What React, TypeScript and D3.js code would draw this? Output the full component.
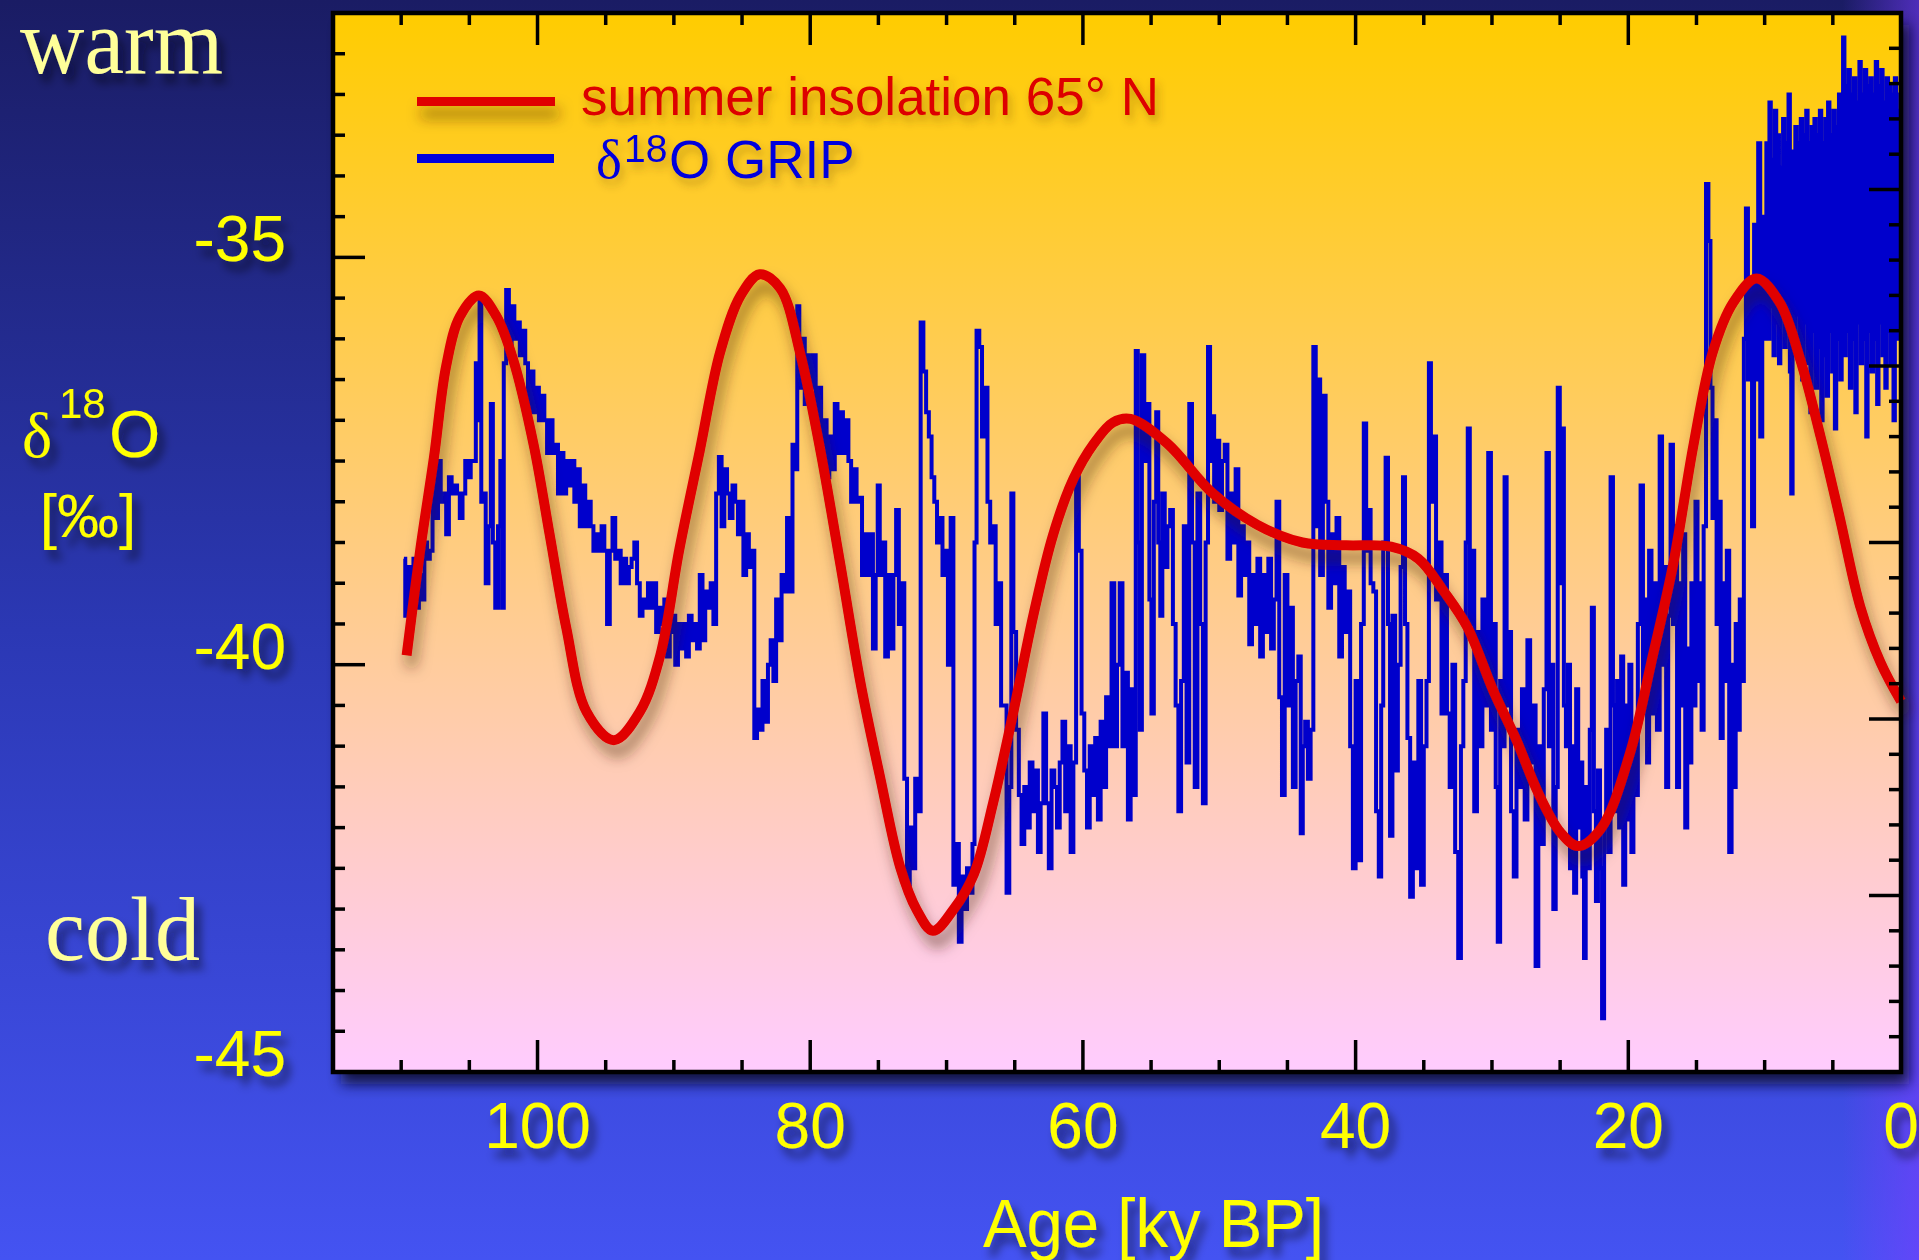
import React from "react";
import * as d3 from "d3";

const WIDTH = 1919;
const HEIGHT = 1260;
const PLOT_LEFT = 333;
const PLOT_RIGHT = 1901;
const PLOT_TOP = 13;
const PLOT_BOTTOM = 1072;

const AGE_RANGE_KY: [number, number] = [115, 0];
const D18O_RANGE: [number, number] = [-45, -32];
const INSOLATION_RANGE: [number, number] = [420, 570];

const AGE_TICK_LABELS = [100, 80, 60, 40, 20, 0];
const D18O_TICK_LABELS = [-35, -40, -45];

// summer insolation 65°N  [age ky BP, W/m2]
const INSOLATION_65N: [number, number][] = [
  [109.6, 479], [108.6, 494], [107.6, 507], [106.7, 520], [105.7, 527], [104.3, 530],
  [103.0, 527], [101.8, 521], [100.3, 509], [99.1, 496], [97.9, 483], [96.4, 471],
  [94.4, 467], [92.5, 471], [91.0, 479], [89.6, 494], [88.1, 508], [86.6, 522],
  [85.1, 530], [83.7, 533], [82.2, 531], [80.7, 521.5], [79.3, 508.5], [77.8, 492],
  [76.3, 475], [74.9, 462], [73.4, 449], [72.2, 443], [71.0, 440], [69.5, 443],
  [68.0, 448], [66.6, 458], [65.1, 471], [63.6, 485], [62.2, 496], [60.7, 504],
  [59.2, 509], [57.8, 512], [56.5, 512.5], [53.8, 509], [50.5, 502], [47.2, 497.5],
  [43.9, 495], [40.7, 494.6], [37.4, 494.4], [35.4, 492.7], [33.5, 488], [31.8, 483],
  [29.9, 474], [28.2, 467], [26.6, 459.5], [25.0, 454], [23.7, 452], [22.0, 454.5],
  [19.9, 465], [18.2, 479], [16.7, 492], [15.2, 509], [13.8, 522], [12.3, 529],
  [10.6, 532.4], [8.9, 529], [7.4, 521], [5.9, 510], [4.5, 498.6], [3.0, 486],
  [1.5, 478], [0.0, 472.5],
];

// GRIP delta-18O  [age ky BP, permil]
const GRIP_D18O: [number, number][] = [
  [109.8, -38.7], [109.6, -39.4], [109.4, -38.8], [109.2, -39.3], [109.0, -38.7], [108.8, -39.3],
  [108.6, -38.9], [108.4, -39.2], [108.2, -38.5], [108.0, -38.7], [107.8, -38.6], [107.6, -37.6],
  [107.4, -38.2], [107.2, -37.5], [107.0, -38.0], [106.8, -37.9], [106.6, -38.4], [106.4, -37.7],
  [106.2, -37.9], [106.0, -37.8], [105.8, -37.9], [105.6, -38.2], [105.4, -37.9], [105.2, -37.5],
  [105.0, -37.7], [104.8, -37.5], [104.6, -37.5], [104.45, -36.3], [104.3, -37.0], [104.2, -35.5],
  [104.05, -38.0], [103.9, -37.9], [103.7, -39.0], [103.5, -38.3], [103.35, -36.8], [103.2, -38.5],
  [103.0, -39.3], [102.8, -38.3], [102.65, -37.5], [102.55, -39.3], [102.4, -36.3], [102.2, -35.4],
  [102.0, -36.2], [101.8, -35.6], [101.6, -36.0], [101.4, -35.8], [101.2, -36.2], [101.0, -35.9],
  [100.8, -36.3], [100.6, -36.9], [100.4, -36.4], [100.2, -36.9], [100.0, -36.6], [99.8, -37.0],
  [99.6, -36.7], [99.4, -37.0], [99.2, -37.4], [99.0, -37.0], [98.8, -37.4], [98.6, -37.3],
  [98.4, -37.9], [98.2, -37.4], [98.0, -37.9], [97.8, -37.5], [97.6, -37.8], [97.4, -37.5],
  [97.2, -38.0], [97.0, -37.6], [96.8, -38.3], [96.6, -37.8], [96.4, -38.3], [96.2, -38.0],
  [96.0, -38.3], [95.8, -38.6], [95.6, -38.4], [95.4, -38.6], [95.2, -38.3], [95.0, -38.6],
  [94.8, -39.5], [94.6, -38.6], [94.4, -38.2], [94.2, -38.7], [94.0, -38.6], [93.8, -39.0],
  [93.6, -38.7], [93.4, -39.0], [93.2, -38.8], [93.0, -38.7], [92.8, -38.5], [92.6, -39.0],
  [92.4, -39.4], [92.2, -39.2], [92.0, -39.3], [91.8, -39.0], [91.6, -39.3], [91.4, -39.0],
  [91.2, -39.6], [91.0, -39.3], [90.8, -39.5], [90.6, -39.2], [90.4, -39.9], [90.2, -39.6],
  [90.0, -39.4], [89.8, -40.0], [89.6, -39.5], [89.4, -39.8], [89.2, -39.5], [89.0, -39.9],
  [88.8, -39.4], [88.6, -39.7], [88.4, -39.5], [88.2, -39.8], [88.0, -38.9], [87.8, -39.7],
  [87.6, -39.1], [87.4, -39.3], [87.2, -39.0], [87.0, -39.5], [86.8, -37.9], [86.6, -37.45],
  [86.4, -38.3], [86.2, -37.6], [86.0, -37.9], [85.8, -38.2], [85.6, -37.8], [85.4, -38.0],
  [85.2, -38.4], [85.0, -38.0], [84.8, -38.9], [84.6, -38.4], [84.4, -38.8], [84.2, -38.6],
  [84.0, -40.9], [83.8, -40.55], [83.6, -40.8], [83.4, -40.2], [83.2, -40.7], [83.0, -40.0],
  [82.8, -39.7], [82.6, -40.2], [82.4, -39.2], [82.2, -39.7], [82.0, -38.9], [81.8, -39.1],
  [81.6, -38.2], [81.4, -39.1], [81.2, -37.3], [81.0, -37.6], [80.9, -35.6], [80.7, -36.6],
  [80.5, -36.0], [80.3, -36.8], [80.1, -36.2], [79.9, -36.6], [79.7, -36.2], [79.5, -37.0],
  [79.3, -36.6], [79.1, -37.3], [78.9, -37.0], [78.7, -37.7], [78.5, -37.2], [78.3, -37.6],
  [78.1, -36.8], [77.9, -37.4], [77.7, -36.9], [77.5, -37.4], [77.3, -37.0], [77.1, -37.5],
  [76.9, -38.0], [76.7, -37.6], [76.5, -38.0], [76.3, -37.95], [76.1, -38.9], [75.9, -38.4],
  [75.7, -38.9], [75.5, -38.4], [75.3, -39.8], [75.1, -38.9], [75.0, -37.8], [74.8, -38.9],
  [74.6, -38.5], [74.4, -39.9], [74.2, -38.9], [74.0, -39.8], [73.8, -38.9], [73.6, -38.1],
  [73.4, -39.5], [73.2, -39.0], [73.0, -41.4], [72.8, -42.7], [72.6, -42.0], [72.4, -42.5],
  [72.2, -41.4], [72.0, -41.8], [71.8, -35.8], [71.6, -36.4], [71.4, -36.9], [71.2, -37.2],
  [71.0, -37.7], [70.8, -38.0], [70.6, -38.5], [70.4, -38.2], [70.2, -38.9], [70.0, -38.6],
  [69.8, -40.0], [69.6, -38.2], [69.4, -42.7], [69.2, -42.2], [69.0, -43.4], [68.8, -42.6],
  [68.6, -43.0], [68.4, -42.5], [68.2, -42.8], [68.0, -42.2], [67.9, -38.5], [67.7, -35.9],
  [67.5, -36.1], [67.3, -37.2], [67.1, -36.6], [66.9, -38.0], [66.7, -38.5], [66.5, -38.3],
  [66.3, -39.5], [66.1, -39.0], [65.9, -40.5], [65.7, -40.5], [65.5, -42.8], [65.3, -41.5],
  [65.2, -37.9], [65.0, -39.6], [64.8, -40.8], [64.6, -41.6], [64.4, -42.2], [64.2, -41.5],
  [64.0, -42.0], [63.8, -41.2], [63.6, -41.8], [63.4, -41.3], [63.2, -42.3], [63.0, -41.7],
  [62.8, -40.6], [62.6, -41.7], [62.4, -42.5], [62.2, -41.3], [62.0, -41.5], [61.8, -42.0],
  [61.6, -41.2], [61.4, -40.7], [61.2, -41.8], [61.0, -41.0], [60.8, -42.3], [60.6, -41.2],
  [60.4, -37.7], [60.2, -38.6], [60.0, -40.6], [59.8, -41.3], [59.6, -42.0], [59.4, -41.0],
  [59.2, -41.6], [59.0, -40.9], [58.8, -41.9], [58.6, -40.7], [58.4, -41.5], [58.2, -40.4],
  [58.0, -41.0], [57.8, -39.0], [57.6, -41.0], [57.4, -40.0],
  [57.2, -39.0], [57.0, -41.0], [56.8, -40.1], [56.6, -41.9], [56.4, -40.3], [56.2, -41.6],
  [56.05, -36.15], [55.9, -38.5], [55.75, -40.8], [55.6, -36.2], [55.4, -37.5], [55.2, -36.8],
  [55.05, -39.2], [54.9, -40.6], [54.7, -38.0], [54.55, -36.9], [54.4, -38.5], [54.25, -39.4],
  [54.1, -37.9], [53.9, -38.8], [53.7, -38.3], [53.5, -38.1], [53.3, -39.5], [53.1, -40.5],
  [52.9, -41.8], [52.7, -40.2], [52.5, -38.3], [52.3, -41.2], [52.1, -36.8], [51.9, -38.5],
  [51.7, -41.5], [51.5, -37.9], [51.3, -39.5], [51.1, -41.7], [50.9, -38.5], [50.75, -36.1],
  [50.6, -37.5], [50.45, -36.95], [50.3, -38.0], [50.1, -37.25], [49.9, -38.1], [49.7, -37.5],
  [49.5, -37.3], [49.3, -38.7], [49.1, -37.9], [48.9, -38.5], [48.7, -37.6], [48.5, -39.15],
  [48.3, -38.3], [48.1, -38.9], [47.9, -38.5], [47.7, -39.75], [47.5, -38.9], [47.3, -39.5],
  [47.1, -38.7], [46.9, -39.9], [46.7, -38.9], [46.5, -39.6], [46.3, -38.7], [46.1, -39.8],
  [45.9, -39.2], [45.7, -38.0], [45.5, -40.4], [45.3, -41.6], [45.1, -38.9], [44.9, -40.5],
  [44.7, -39.3], [44.5, -41.5], [44.3, -40.2], [44.1, -39.9], [43.95, -42.07], [43.8, -41.0],
  [43.6, -40.7], [43.4, -41.4], [43.2, -40.8], [43.0, -36.1], [42.85, -38.3], [42.7, -36.5],
  [42.5, -38.9], [42.3, -36.7], [42.1, -38.0], [41.9, -39.3], [41.7, -38.4], [41.5, -39.0],
  [41.3, -38.2], [41.1, -39.9], [40.9, -38.8], [40.7, -39.6], [40.5, -39.1], [40.3, -41.0],
  [40.1, -42.5], [39.9, -40.2], [39.7, -42.4], [39.5, -39.5], [39.3, -37.04], [39.15, -38.6],
  [39.0, -38.1], [38.8, -39.0], [38.6, -39.1], [38.4, -41.8], [38.2, -42.6], [38.05, -40.5],
  [37.9, -38.5], [37.7, -37.46], [37.55, -39.5], [37.4, -42.1], [37.2, -39.4], [37.0, -41.3],
  [36.8, -40.0], [36.6, -38.8], [36.45, -37.7], [36.3, -39.5], [36.1, -40.9], [35.9, -42.85],
  [35.7, -41.2], [35.5, -42.5], [35.3, -40.2], [35.1, -42.7], [34.9, -41.0], [34.7, -40.2],
  [34.55, -36.3], [34.4, -38.0], [34.2, -37.2], [34.0, -39.2], [33.8, -38.5], [33.6, -40.6],
  [33.4, -38.9], [33.2, -40.6], [33.0, -41.5], [32.8, -40.0], [32.6, -42.3], [32.35, -43.6],
  [32.2, -41.0], [32.0, -40.2], [31.85, -38.5], [31.7, -37.1], [31.55, -39.5], [31.4, -38.6],
  [31.2, -41.8], [31.0, -39.6], [30.8, -41.0], [30.6, -39.2], [30.4, -40.5], [30.15, -37.4],
  [30.0, -40.8], [29.8, -39.5], [29.65, -41.5], [29.5, -43.4], [29.3, -40.2], [29.15, -41.0],
  [29.0, -37.7], [28.85, -40.5], [28.7, -39.6], [28.5, -41.8], [28.3, -42.6], [28.1, -40.8],
  [27.9, -41.5], [27.7, -40.3], [27.5, -41.9], [27.3, -39.7], [27.1, -41.2], [26.9, -40.5],
  [26.7, -43.7], [26.5, -41.0], [26.3, -42.2], [26.1, -40.3], [25.9, -37.4], [25.75, -41.0],
  [25.6, -40.0], [25.4, -43.0], [25.25, -41.5], [25.1, -36.6], [24.95, -39.0], [24.8, -37.1],
  [24.65, -40.5], [24.5, -41.0], [24.35, -40.0], [24.2, -42.5], [24.05, -41.0], [23.9, -42.8],
  [23.75, -40.3], [23.6, -42.0], [23.45, -41.2], [23.3, -42.6], [23.2, -43.6], [23.05, -41.5],
  [22.9, -42.5], [22.75, -40.8], [22.6, -39.3], [22.45, -41.8], [22.3, -42.9], [22.15, -41.3],
  [22.0, -42.5], [21.85, -44.34], [21.7, -42.0], [21.55, -40.8], [21.4, -42.3], [21.2, -37.7],
  [21.05, -40.5], [20.9, -41.8], [20.75, -40.2], [20.6, -42.0], [20.45, -39.9], [20.3, -42.7],
  [20.15, -40.5], [20.0, -41.9], [19.85, -40.0], [19.7, -42.3], [19.55, -40.8], [19.4, -41.6],
  [19.2, -39.5], [19.0, -37.8], [18.85, -40.5], [18.7, -39.2], [18.55, -41.2], [18.4, -38.6],
  [18.2, -40.6], [18.0, -39.0], [17.8, -40.8], [17.6, -37.2], [17.45, -40.0], [17.3, -38.8],
  [17.15, -41.5], [17.0, -39.4], [16.8, -37.3], [16.65, -39.5], [16.5, -38.3], [16.35, -41.5],
  [16.2, -39.0], [16.05, -40.5], [15.9, -38.4], [15.75, -42.0], [15.6, -39.8], [15.45, -41.2],
  [15.3, -39.0], [15.15, -40.5], [15.0, -38.0], [14.85, -40.2], [14.7, -39.0], [14.55, -40.8],
  [14.4, -38.3], [14.2, -34.1], [14.05, -34.8], [13.9, -36.6], [13.75, -38.2], [13.6, -37.0],
  [13.45, -39.5], [13.3, -38.0], [13.15, -40.9], [13.0, -39.0], [12.85, -40.2], [12.7, -38.6],
  [12.5, -42.3], [12.35, -40.0], [12.2, -41.5], [12.05, -39.5], [11.9, -40.8], [11.75, -39.2],
  [11.6, -40.2], [11.45, -36.0], [11.3, -34.4], [11.15, -36.5], [11.0, -35.3], [10.85, -38.3],
  [10.7, -34.6], [10.55, -36.5], [10.4, -33.6], [10.25, -37.2], [10.1, -34.5], [9.95, -36.0],
  [9.8, -33.6], [9.7, -36.0], [9.6, -33.1], [9.5, -35.6], [9.4, -33.8], [9.3, -36.2],
  [9.2, -33.2], [9.1, -35.8], [9.0, -33.5], [8.9, -36.3], [8.8, -33.9], [8.7, -35.5],
  [8.6, -33.3], [8.5, -36.1], [8.4, -33.6], [8.3, -35.9], [8.2, -33.0], [8.1, -36.4],
  [8.0, -37.9], [7.9, -33.7], [7.8, -36.0], [7.7, -33.4], [7.6, -35.7], [7.5, -33.6],
  [7.4, -36.2], [7.3, -33.3], [7.2, -36.5], [7.1, -33.5], [7.0, -35.8], [6.9, -33.2],
  [6.8, -36.3], [6.7, -33.6], [6.6, -36.9], [6.5, -33.4], [6.4, -35.9], [6.3, -33.3],
  [6.2, -36.6], [6.1, -33.5], [6.0, -36.1], [5.9, -33.2], [5.8, -37.0], [5.7, -33.6],
  [5.6, -36.2], [5.5, -33.3], [5.4, -36.7], [5.3, -33.1], [5.2, -35.9], [5.1, -33.5],
  [5.0, -36.4], [4.9, -33.2], [4.8, -37.1], [4.7, -33.4], [4.6, -36.0], [4.5, -33.0],
  [4.4, -36.5], [4.3, -33.3], [4.2, -32.3], [4.1, -36.2], [4.0, -32.9], [3.9, -35.9],
  [3.8, -32.7], [3.7, -36.6], [3.6, -33.0], [3.5, -36.0], [3.4, -32.8], [3.3, -36.9],
  [3.2, -33.1], [3.1, -35.8], [3.0, -32.6], [2.9, -36.3], [2.8, -33.0], [2.7, -36.0],
  [2.6, -32.7], [2.5, -37.2], [2.4, -32.9], [2.3, -35.9], [2.2, -32.8], [2.1, -36.4],
  [2.0, -33.0], [1.9, -36.0], [1.8, -32.6], [1.7, -36.8], [1.6, -32.9], [1.5, -35.8],
  [1.4, -32.7], [1.3, -36.2], [1.2, -33.1], [1.1, -36.6], [1.0, -32.8], [0.9, -35.9],
  [0.8, -32.9], [0.7, -36.3], [0.6, -33.0], [0.5, -37.0], [0.4, -32.8], [0.3, -36.0],
  [0.2, -33.2], [0.1, -35.8], [0.0, -33.0],
];

const SANS = "'Liberation Sans', Arial, Helvetica, sans-serif";
const SERIF = "'Liberation Serif', 'Times New Roman', Times, serif";
const YELLOW = "#ffff00";
const PALE = "#ffff99";

export default function App() {
  const x = d3.scaleLinear().domain(AGE_RANGE_KY).range([PLOT_LEFT, PLOT_RIGHT]);
  const y = d3.scaleLinear().domain(D18O_RANGE).range([PLOT_BOTTOM, PLOT_TOP]);
  const yIns = d3.scaleLinear().domain(INSOLATION_RANGE).range([PLOT_BOTTOM, PLOT_TOP]);

  const grip = [...GRIP_D18O].sort((a, b) => b[0] - a[0]);
  const ins = [...INSOLATION_65N].sort((a, b) => b[0] - a[0]);

  const gripPath = d3
    .line<[number, number]>()
    .x((d) => x(d[0]))
    .y((d) => y(d[1]))
    .curve(d3.curveStep)(grip) || "";
  const insPath = d3
    .line<[number, number]>()
    .x((d) => x(d[0]))
    .y((d) => yIns(d[1]))
    .curve(d3.curveCatmullRom.alpha(0.5))(ins) || "";

  const ageTicks = d3.range(0, 111, 5);
  const d18oTicks = d3.range(-45, -31.99, 0.5);
  const insTicks = d3.range(420, 570.01, 5);
  const isMajorAge = (v: number) => Math.abs(v % 20) < 1e-6;
  const isMajorD = (v: number) => Math.abs(v % 5) < 1e-6;
  const isMajorIns = (v: number) => Math.abs((v - 420) % 25) < 1e-6;

  const MAJ = 32;
  const MIN = 12;
  const TW = 3.5;

  return (
    <svg
      width={WIDTH}
      height={HEIGHT}
      viewBox={`0 0 ${WIDTH} ${HEIGHT}`}
      style={{ position: "absolute", left: 0, top: 0, display: "block" }}
    >
      <defs>
        <linearGradient id="bg" x1="0" y1="0" x2="0" y2="1">
          <stop offset="0" stopColor="#1a1c64" />
          <stop offset="0.5" stopColor="#2b38b4" />
          <stop offset="1" stopColor="#4453f2" />
        </linearGradient>
        <linearGradient id="bgRight" x1="0" y1="0" x2="1" y2="0">
          <stop offset="0.96" stopColor="#7a3cff" stopOpacity="0" />
          <stop offset="1" stopColor="#7a3cff" stopOpacity="0.55" />
        </linearGradient>
        <linearGradient id="plotBg" x1="0" y1="0" x2="0" y2="1">
          <stop offset="0" stopColor="#ffcc00" />
          <stop offset="1" stopColor="#ffccff" />
        </linearGradient>
        <filter id="plotShadow" x="-5%" y="-5%" width="115%" height="115%">
          <feGaussianBlur stdDeviation="7" />
        </filter>
        <filter id="textShadow" x="-20%" y="-30%" width="150%" height="170%">
          <feDropShadow dx="6" dy="9" stdDeviation="5" floodColor="#000018" floodOpacity="0.55" />
        </filter>
        <filter id="softShadow" x="-10%" y="-30%" width="130%" height="180%">
          <feDropShadow dx="3" dy="6" stdDeviation="4" floodColor="#5a3a00" floodOpacity="0.35" />
        </filter>
        <filter
          id="redShadow"
          filterUnits="userSpaceOnUse"
          x={0}
          y={0}
          width={WIDTH}
          height={HEIGHT}
        >
          <feDropShadow dx="4" dy="12" stdDeviation="7" floodColor="#3a2200" floodOpacity="0.5" />
        </filter>
        <clipPath id="plotClip">
          <rect x={PLOT_LEFT} y={PLOT_TOP} width={PLOT_RIGHT - PLOT_LEFT} height={PLOT_BOTTOM - PLOT_TOP} />
        </clipPath>
      </defs>

      <rect x={0} y={0} width={WIDTH} height={HEIGHT} fill="url(#bg)" />
      <rect x={0} y={0} width={WIDTH} height={HEIGHT} fill="url(#bgRight)" />

      {/* plot shadow */}
      <rect
        x={PLOT_LEFT + 8}
        y={PLOT_TOP + 12}
        width={PLOT_RIGHT - PLOT_LEFT}
        height={PLOT_BOTTOM - PLOT_TOP}
        fill="#0a0c30"
        opacity={0.9}
        filter="url(#plotShadow)"
      />
      <rect
        x={PLOT_LEFT}
        y={PLOT_TOP}
        width={PLOT_RIGHT - PLOT_LEFT}
        height={PLOT_BOTTOM - PLOT_TOP}
        fill="url(#plotBg)"
      />

      {/* data */}
      <g clipPath="url(#plotClip)">
        <path d={gripPath} fill="none" stroke="#0000cc" strokeWidth={4} strokeLinejoin="miter" />
      </g>
      <path d={insPath} fill="none" stroke="#e00000" strokeWidth={10} filter="url(#redShadow)" />

      {/* legend */}
      <rect x={417} y={97} width={138} height={9} fill="#e00000" filter="url(#redShadow)" />
      <text x={581} y={115} fontFamily={SANS} fontSize={53} fill="#dd0000" filter="url(#softShadow)">
        summer insolation 65° N
      </text>
      <rect x={417} y={154} width={137} height={9} fill="#0000dd" />
      <g fill="#0000dd" filter="url(#softShadow)">
        <text x={596} y={178} fontFamily={SERIF} fontSize={55}>δ</text>
        <text x={624} y={161.5} fontFamily={SANS} fontSize={39}>18</text>
        <text x={669} y={178} fontFamily={SANS} fontSize={53}>O GRIP</text>
      </g>

      {/* ticks */}
      <g stroke="#000" strokeWidth={TW}>
        {ageTicks.map((v) => {
          const len = isMajorAge(v) ? MAJ : MIN;
          const px = x(v);
          return (
            <g key={`a${v}`}>
              <line x1={px} x2={px} y1={PLOT_BOTTOM} y2={PLOT_BOTTOM - len} />
              <line x1={px} x2={px} y1={PLOT_TOP} y2={PLOT_TOP + len} />
            </g>
          );
        })}
        {d18oTicks.map((v) => {
          const len = isMajorD(v) ? MAJ : MIN;
          const py = y(v);
          return <line key={`d${v}`} x1={PLOT_LEFT} x2={PLOT_LEFT + len} y1={py} y2={py} />;
        })}
        {insTicks.map((v) => {
          const len = isMajorIns(v) ? MAJ : MIN;
          const py = yIns(v);
          return <line key={`i${v}`} x1={PLOT_RIGHT} x2={PLOT_RIGHT - len} y1={py} y2={py} />;
        })}
      </g>

      {/* frame */}
      <rect
        x={PLOT_LEFT}
        y={PLOT_TOP}
        width={PLOT_RIGHT - PLOT_LEFT}
        height={PLOT_BOTTOM - PLOT_TOP}
        fill="none"
        stroke="#000"
        strokeWidth={4.5}
      />

      {/* axis labels */}
      <g fontFamily={SANS} fill={YELLOW} filter="url(#textShadow)">
        {D18O_TICK_LABELS.map((v) => (
          <text key={`yl${v}`} x={286} y={y(v) + 4} fontSize={64} textAnchor="end">
            {String(v)}
          </text>
        ))}
        {AGE_TICK_LABELS.map((v) => (
          <text key={`xl${v}`} x={x(v)} y={1148} fontSize={64} textAnchor="middle">
            {String(v)}
          </text>
        ))}
        <text x={983} y={1247} fontSize={68} textLength={341} lengthAdjust="spacingAndGlyphs">
          Age [ky BP]
        </text>
        <text x={22} y={457} fontFamily={SERIF} fontSize={64}>δ</text>
        <text x={59} y={418} fontSize={42}>18</text>
        <text x={109} y={457} fontSize={66}>O</text>
        <text x={88} y={537} fontSize={62} textAnchor="middle">[‰]</text>
      </g>

      <g fontFamily={SERIF} fill={PALE} filter="url(#textShadow)">
        <text x={20} y={73} fontSize={94} textLength={203} lengthAdjust="spacingAndGlyphs">warm</text>
        <text x={45} y={960} fontSize={92} textLength={155} lengthAdjust="spacingAndGlyphs">cold</text>
      </g>
    </svg>
  );
}
